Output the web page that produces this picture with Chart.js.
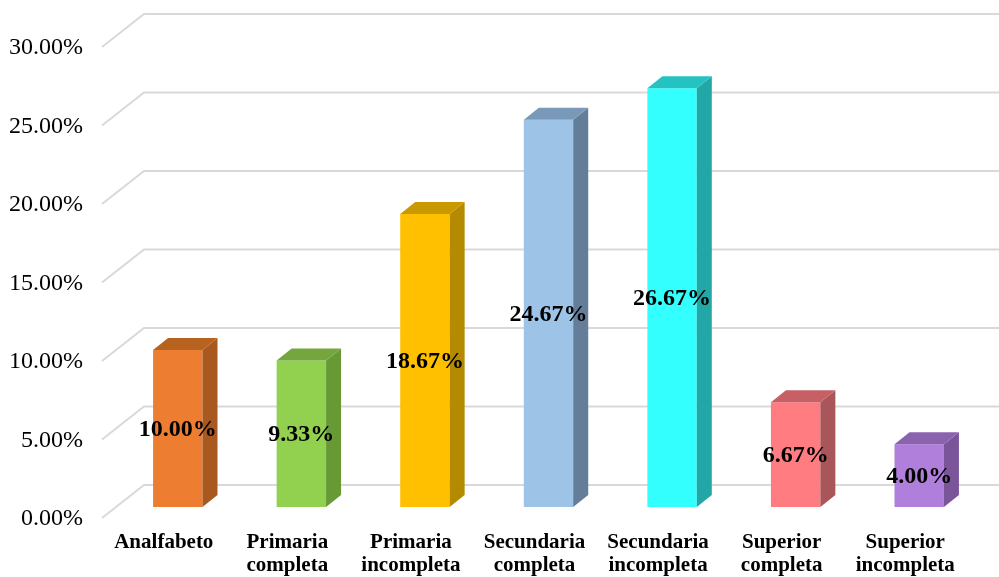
<!DOCTYPE html>
<html>
<head>
<meta charset="utf-8">
<script src="https://cdn.jsdelivr.net/npm/chart.js@4.4.0/dist/chart.umd.min.js"></script>
<style>
  html, body { margin: 0; padding: 0; background: #fff; }
  #wrap { width: 999px; height: 577px; }
</style>
</head>
<body>
<div id="wrap"><canvas id="chart"></canvas></div>
<script>
// Nivel de instrucción
const categories = [
    ['Analfabeto'],
    ['Primaria', 'completa'],
    ['Primaria', 'incompleta'],
    ['Secundaria', 'completa'],
    ['Secundaria', 'incompleta'],
    ['Superior', 'completa'],
    ['Superior', 'incompleta']
];
const percentages = [10.00, 9.33, 18.67, 24.67, 26.67, 6.67, 4.00];
const tickValues = [0, 5, 10, 15, 20, 25, 30];

// Face colours for each column: front, right side, top
const frontColors = ['#ed7d31', '#92d050', '#ffc000', '#9dc3e6', '#33ffff', '#ff7c80', '#b07edb'];
const sideColors  = ['#a9581f', '#679a35', '#b38a00', '#647d98', '#23a6a6', '#a9565a', '#7a5599'];
const topColors   = ['#b8621f', '#74a63e', '#c89a00', '#7a98b8', '#25c2c2', '#c66065', '#8b62ad'];

// Oblique offsets relative to the plane of the bar fronts
const BAR_DEPTH = { dx: 15, dy: -12 };
const FRONT_WALL = { dx: -14, dy: 11 };
const BACK_WALL = { dx: 28, dy: -22 };

const SERIF = '"Liberation Serif", "Times New Roman", serif';

const bar3d = {
    id: 'bar3d',
    beforeDatasetsDraw(chart) {
        const { ctx, chartArea, scales: { y } } = chart;
        ctx.save();
        ctx.strokeStyle = '#d9d9d9';
        ctx.lineWidth = 2;
        ctx.fillStyle = '#000';
        ctx.font = '24px ' + SERIF;
        ctx.textAlign = 'right';
        ctx.textBaseline = 'middle';
        tickValues.forEach(v => {
            const py = y.getPixelForValue(v);
            ctx.beginPath();
            ctx.moveTo(chartArea.left + FRONT_WALL.dx, py + FRONT_WALL.dy);
            ctx.lineTo(chartArea.left + BACK_WALL.dx, py + BACK_WALL.dy);
            ctx.lineTo(chart.width, py + BACK_WALL.dy);
            ctx.stroke();
            ctx.fillText(v.toFixed(2) + '%', chartArea.left + FRONT_WALL.dx - 19, py + FRONT_WALL.dy + 1);
        });
        ctx.restore();
    },
    afterDatasetsDraw(chart) {
        const { ctx, scales: { x } } = chart;
        const meta = chart.getDatasetMeta(0);
        ctx.save();
        meta.data.forEach((bar, i) => {
            const { x: cx, y: top, base, width } = bar.getProps(['x', 'y', 'base', 'width'], true);
            const l = cx - width / 2;
            const r = cx + width / 2;
            const { dx, dy } = BAR_DEPTH;

            ctx.fillStyle = sideColors[i];
            ctx.beginPath();
            ctx.moveTo(r, top);
            ctx.lineTo(r + dx, top + dy);
            ctx.lineTo(r + dx, base + dy);
            ctx.lineTo(r, base);
            ctx.closePath();
            ctx.fill();

            ctx.fillStyle = topColors[i];
            ctx.beginPath();
            ctx.moveTo(l, top);
            ctx.lineTo(l + dx, top + dy);
            ctx.lineTo(r + dx, top + dy);
            ctx.lineTo(r, top);
            ctx.closePath();
            ctx.fill();

            // value label in the middle of the front face
            ctx.fillStyle = '#000';
            ctx.font = 'bold 24px ' + SERIF;
            ctx.textAlign = 'center';
            ctx.textBaseline = 'middle';
            ctx.fillText(percentages[i].toFixed(2) + '%', cx, (top + base) / 2 + 1);

            // category label under the front wall
            ctx.font = 'bold 21px ' + SERIF;
            const lx = x.getPixelForValue(i) + FRONT_WALL.dx;
            categories[i].forEach((line, k) => {
                ctx.fillText(line, lx, base + 36 + k * 23);
            });
        });
        ctx.restore();
    }
};

new Chart(document.getElementById('chart'), {
    type: 'bar',
    data: {
        labels: categories,
        datasets: [{
            data: percentages,
            backgroundColor: frontColors,
            borderWidth: 0,
            categoryPercentage: 1,
            barPercentage: 0.4
        }]
    },
    options: {
        responsive: true,
        maintainAspectRatio: false,
        animation: false,
        layout: {
            padding: { left: 116, right: 18, top: 36, bottom: 70 }
        },
        plugins: {
            legend: { display: false },
            tooltip: { enabled: false }
        },
        scales: {
            x: { display: false },
            y: { display: false, min: 0, max: 30 }
        }
    },
    plugins: [bar3d]
});
</script>
</body>
</html>
